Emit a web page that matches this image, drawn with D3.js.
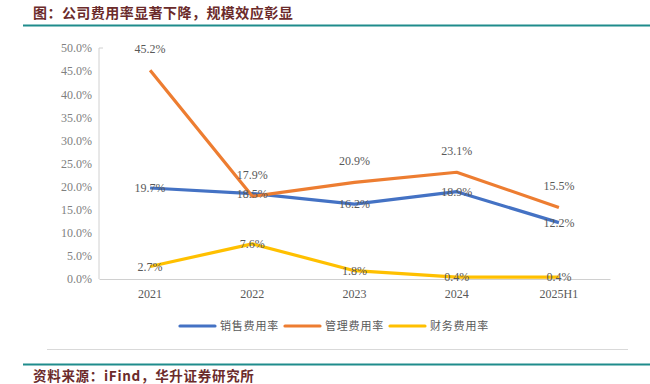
<!DOCTYPE html>
<html><head><meta charset="utf-8">
<script src="https://cdn.jsdelivr.net/npm/d3@7"></script>
<style>body{margin:0;background:#fff;}</style>
</head><body>
<svg id="c" width="650" height="384"></svg>
<script>
const categories = ["2021","2022","2023","2024","2025H1"];
const sales = [19.7, 18.5, 16.2, 18.9, 12.2];
const admin = [45.2, 17.9, 20.9, 23.1, 15.5];
const finance = [2.7, 7.6, 1.8, 0.4, 0.4];
const seriesNames = ["销售费用率","管理费用率","财务费用率"];
const yTicks = [0,5,10,15,20,25,30,35,40,45,50];
const titleText = "图：公司费用率显著下降，规模效应彰显";
const sourceText = "资料来源：iFind，华升证券研究所";

const colors = ["#4472C4","#ED7D31","#FFC000"];
const series = [sales, admin, finance];
const labelPos = ["center","above","center"];

const svg = d3.select("#c");
const maroon = "#6B2B2B", teal = "#1F8C8C";
const cjk = "'Noto Sans CJK SC', sans-serif";
const serif = "'Liberation Serif','DejaVu Serif',serif";

// title
svg.append("text").attr("x",33).attr("y",18).text(titleText)
  .attr("font-family",cjk).attr("font-weight","bold").attr("font-size",14)
  .attr("letter-spacing","0.45px").attr("fill",maroon);
svg.append("line").attr("x1",23).attr("x2",650).attr("y1",25.5).attr("y2",25.5)
  .attr("stroke",teal).attr("stroke-width",2);

const x = d3.scaleBand().domain(categories).range([99,610]);
const y = d3.scaleLinear().domain([0,50]).range([279,48]);

// y axis
const yAxis = d3.axisLeft(y).tickValues(yTicks).tickSize(0).tickPadding(7)
  .tickFormat(d=>d3.format(".1f")(d)+"%");
const gy = svg.append("g").attr("transform","translate(99,0)").call(yAxis);
gy.select(".domain").remove();
gy.selectAll("text").attr("font-family",serif).attr("font-size",12).attr("fill","#808080");
svg.append("path").attr("d",`M103,${y(50)}H99V${y(0)}`).attr("fill","none").attr("stroke","#d0d0d0").attr("stroke-width",1);

// x axis
const xAxis = d3.axisBottom(x).tickSize(0).tickPadding(10);
const gx = svg.append("g").attr("transform",`translate(0,${y(0)})`).call(xAxis);
gx.select(".domain").attr("stroke","#d0d0d0");
gx.selectAll("text").attr("font-family",serif).attr("font-size",12).attr("fill","#595959");

const cx = d => x(d) + x.bandwidth()/2;
const line = d3.line().x((d,i)=>cx(categories[i])).y(d=>y(d));

series.forEach((s,k)=>{
  svg.append("path").datum(s).attr("d",line).attr("fill","none")
    .attr("stroke",colors[k]).attr("stroke-width",3.2).attr("stroke-linejoin","round");
});
series.forEach((s,k)=>{
  svg.append("g").selectAll("text").data(s).join("text")
    .attr("x",(d,i)=>cx(categories[i]))
    .attr("y",d=> labelPos[k]==="above" ? y(d)-17 : y(d)+4)
    .attr("text-anchor","middle")
    .attr("font-family",serif).attr("font-size",12).attr("fill","#595959")
    .text(d=>d3.format(".1f")(d)+"%");
});

// legend
const legX = [180,285,390];
seriesNames.forEach((n,k)=>{
  svg.append("line").attr("x1",legX[k]).attr("x2",legX[k]+35).attr("y1",326).attr("y2",326)
    .attr("stroke",colors[k]).attr("stroke-width",3.2).attr("stroke-linecap","round");
  svg.append("text").attr("x",legX[k]+40).attr("y",330).text(n)
    .attr("font-family",cjk).attr("font-size",11).attr("letter-spacing","0.8px").attr("fill","#595959");
});

svg.append("line").attr("x1",47).attr("x2",628).attr("y1",349.5).attr("y2",349.5)
  .attr("stroke","#d9d9d9").attr("stroke-width",1);
svg.append("line").attr("x1",23).attr("x2",650).attr("y1",364.5).attr("y2",364.5)
  .attr("stroke",teal).attr("stroke-width",2);
svg.append("text").attr("x",33).attr("y",381).text(sourceText)
  .attr("font-family",cjk).attr("font-weight","bold").attr("font-size",13.5)
  .attr("letter-spacing","0.7px").attr("fill",maroon);
</script>
</body></html>
